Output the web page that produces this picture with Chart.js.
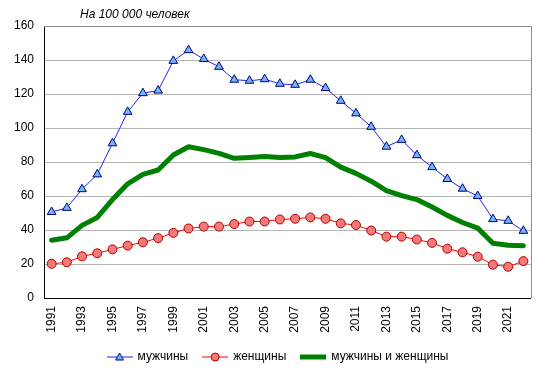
<!DOCTYPE html>
<html>
<head>
<meta charset="utf-8">
<script src="https://cdn.jsdelivr.net/npm/chart.js@4/dist/chart.umd.min.js"></script>
<style>
  html, body { margin: 0; padding: 0; background: #fff; }
  #wrap { width: 546px; height: 373px; position: relative; }
</style>
</head>
<body>
<div id="wrap"><canvas id="chart"></canvas></div>
<script>
// --- data (per 100 000 population) ---
var YEARS = ['1991','1992','1993','1994','1995','1996','1997','1998','1999','2000',
             '2001','2002','2003','2004','2005','2006','2007','2008','2009','2010',
             '2011','2012','2013','2014','2015','2016','2017','2018','2019','2020',
             '2021','2022'];
var MEN   = [50.6, 53, 64, 72.7, 91, 109.5, 120.5, 122, 139.5, 145.8,
             140.6, 136, 128.4, 127.8, 128.7, 126, 125.4, 128.4, 123.5, 116,
             108.6, 100.7, 89, 93, 84, 77, 70, 64.3, 60, 46.4,
             45.4, 39.5];
var WOMEN = [20.1, 21, 24.5, 26.3, 28.6, 30.8, 32.8, 35.2, 38.3, 40.9,
             42, 42, 43.5, 45, 45, 46.2, 46.6, 47.4, 46.6, 43.9,
             42.9, 39.7, 36.1, 36.1, 34.4, 32.4, 29, 26.9, 24.3, 19.6,
             18.4, 21.7];
var BOTH  = [34, 35.4, 42.7, 47.4, 57.9, 67.2, 72.7, 75.3, 84.1, 89,
             87.3, 85.1, 82.2, 82.7, 83.2, 82.6, 83, 85, 82.6, 77,
             73.3, 68.7, 63.2, 60.2, 57.9, 53.5, 48.6, 44.4, 41.1, 32.2,
             31, 30.8];
var LABELS = ['мужчины', 'женщины', 'мужчины и женщины'];
var Y_MIN = 0, Y_MAX = 160, Y_STEP = 20;
var NOTE = 'На 100 000 человек';

(function () {
  'use strict';

  Chart.defaults.font.family = '"Liberation Sans", Arial, sans-serif';
  Chart.defaults.font.size   = 12;
  Chart.defaults.color       = '#000';

  // small legend icons: a line with the series marker in the middle
  function legendIcon(color, width, marker) {
    var c = document.createElement('canvas');
    c.width = 26; c.height = 12;
    var g = c.getContext('2d');
    g.strokeStyle = color;
    g.lineWidth = width;
    g.beginPath(); g.moveTo(0, 6); g.lineTo(26, 6); g.stroke();
    g.lineWidth = 1;
    if (marker === 'tri') {
      g.fillStyle = '#6fb7f5'; g.strokeStyle = '#00007a';
      g.beginPath(); g.moveTo(13, 2); g.lineTo(17, 9); g.lineTo(9, 9); g.closePath();
      g.fill(); g.stroke();
    } else if (marker === 'circle') {
      g.fillStyle = '#f47a7a'; g.strokeStyle = '#b00000';
      g.beginPath(); g.arc(13, 6, 4, 0, Math.PI * 2); g.fill(); g.stroke();
    }
    return c;
  }
  var ICONS = [legendIcon('#2323ff', 1, 'tri'), legendIcon('#ff0000', 1, 'circle'), legendIcon('#008000', 5, null)];

  // gray top/right frame of the plot + the note above it
  var framePlugin = {
    id: 'frame',
    afterLayout: function (chart) {
      // legend sits a little right of the canvas centre in the original
      if (chart.legend) { chart.legend.left += 12; chart.legend.right += 12; }
    },
    beforeDatasetsDraw: function (chart) {
      var a = chart.chartArea, ctx = chart.ctx;
      ctx.save();
      ctx.strokeStyle = '#8c8c8c';
      ctx.lineWidth = 1;
      ctx.beginPath();
      ctx.moveTo(a.left, a.top + 0.5);
      ctx.lineTo(a.right + 0.5, a.top + 0.5);
      ctx.lineTo(a.right + 0.5, a.bottom);
      ctx.stroke();
      ctx.restore();
    },
    afterDraw: function (chart) {
      var ctx = chart.ctx;
      ctx.save();
      ctx.font = 'italic 12px "Liberation Sans", Arial, sans-serif';
      ctx.fillStyle = '#000';
      ctx.textBaseline = 'alphabetic';
      ctx.fillText(NOTE, 80, 18);
      ctx.restore();
    }
  };

  new Chart(document.getElementById('chart'), {
    type: 'line',
    data: {
      labels: YEARS,
      datasets: [{
        label: LABELS[0],
        data: MEN,
        borderColor: '#2323ff',
        borderWidth: 1,
        pointStyle: 'triangle',
        pointRadius: 5,
        pointBackgroundColor: '#6fb7f5',
        pointBorderColor: '#00007a',
        pointBorderWidth: 1,
        tension: 0
      }, {
        label: LABELS[1],
        data: WOMEN,
        borderColor: '#ff0000',
        borderWidth: 1,
        pointStyle: 'circle',
        pointRadius: 4.5,
        pointBackgroundColor: '#f47a7a',
        pointBorderColor: '#b00000',
        pointBorderWidth: 1,
        tension: 0
      }, {
        label: LABELS[2],
        data: BOTH,
        borderColor: '#008000',
        borderWidth: 5,
        borderJoinStyle: 'round',
        borderCapStyle: 'round',
        pointRadius: 0,
        tension: 0
      }]
    },
    options: {
      responsive: true,
      maintainAspectRatio: false,
      animation: false,
      layout: { padding: { left: 0, right: 14, top: 26, bottom: 0 } },
      plugins: {
        legend: {
          position: 'bottom',
          labels: {
            usePointStyle: true,
            pointStyleWidth: 24,
            padding: 15,
            boxHeight: 12,
            font: { size: 12 },
            generateLabels: function (chart) {
              var items = Chart.defaults.plugins.legend.labels.generateLabels(chart);
              items.forEach(function (it, i) { it.pointStyle = ICONS[i]; });
              return items;
            }
          }
        },
        tooltip: { enabled: false }
      },
      scales: {
        x: {
          offset: true,
          grid: { display: false, drawTicks: false },
          border: { color: '#000', width: 1 },
          ticks: {
            autoSkip: false,
            maxRotation: 90,
            minRotation: 90,
            padding: 8,
            callback: function (v, i) { return i % 2 === 0 ? YEARS[i] : ''; }
          },
          afterFit: function (scale) { scale.height = 38; }
        },
        y: {
          min: Y_MIN,
          max: Y_MAX,
          grid: { color: '#b4b4b4', drawTicks: false },
          border: { color: '#000', width: 1 },
          ticks: { stepSize: Y_STEP, padding: 10 },
          afterFit: function (scale) { scale.width = 44; }
        }
      }
    },
    plugins: [framePlugin]
  });
}());
</script>
</body>
</html>
